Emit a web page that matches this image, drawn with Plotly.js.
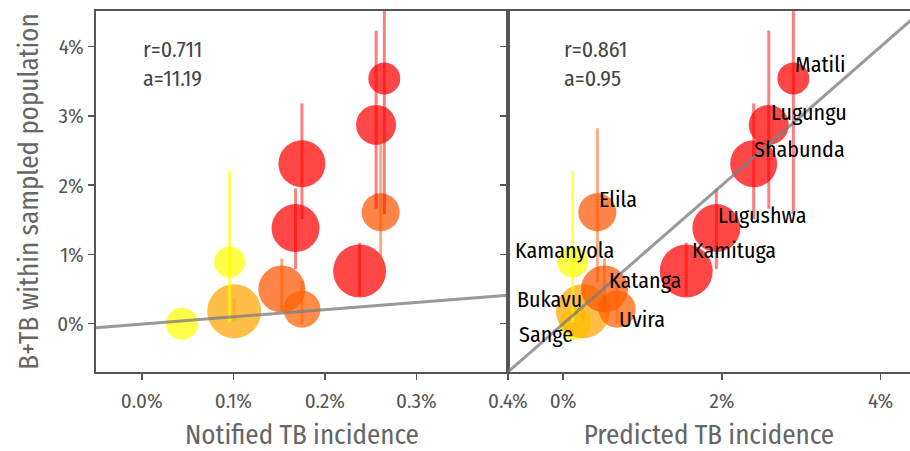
<!DOCTYPE html>
<html>
<head>
<meta charset="utf-8">
<script src="https://cdn.plot.ly/plotly-3.0.1.min.js"></script>
<style>
html,body{margin:0;padding:0;background:#fff;}
#chart{width:910px;height:451px;}
</style>
</head>
<body>
<div id="chart"></div>
<script>
// ---- data ----
var locations = ["Sange","Kamanyola","Bukavu","Katanga","Uvira","Lugushwa","Shabunda","Kamituga","Lugungu","Matili","Elila"];
var notified  = [0.00044,0.00096,0.00101,0.00153,0.00175,0.00168,0.00175,0.00238,0.00256,0.00265,0.00261];
var predicted = [0.0015,0.0012,0.0025,0.0052,0.0068,0.0193,0.0240,0.0155,0.0259,0.0290,0.0043];
var prevalence = [0.0000,0.0089,0.0018,0.0050,0.0021,0.0138,0.0231,0.0076,0.0287,0.0354,0.0161];
var prevLow  = [0.0000,0.0002,0.0004,0.0018,0.0000,0.0079,0.0151,0.0040,0.0166,0.0158,0.0060];
var prevHigh = [0.0000,0.0221,0.0036,0.0094,0.0062,0.0195,0.0318,0.0117,0.0423,0.0500,0.0282];
var sampleSize = [32,31,54,47,37,48,47,53,40,32,38];
var leftStats  = ["r=0.711","a=11.19"];
var rightStats = ["r=0.861","a=0.95"];
var fitX = [-0.0005, 0.0040];
var fitY = [-0.00058, 0.00412];
var idLine = [-0.01, 0.06];
var xTicksLeft = [0,0.001,0.002,0.003,0.004];
var xTicksRight = [0,0.02,0.04];
var yTicks = [0,0.01,0.02,0.03,0.04];

// ---- styles ----
var baseColors = ["255,255,0","255,255,0","255,165,0","255,85,0","255,95,0","255,0,0","255,0,0","255,0,0","255,0,0","255,0,0","255,85,0"];
var labelShift = { // pixel offsets for labels [dx, dy]
  "Sange":[-58,-11], "Kamanyola":[-60,12], "Bukavu":[-68,12],
  "Katanga":[3,9], "Uvira":[0,-10], "Lugushwa":[0,13],
  "Shabunda":[-2,14], "Kamituga":[4,21], "Lugungu":[0,12],
  "Matili":[0,14], "Elila":[0,13]
};
var FONT = "Fira Sans Condensed, Roboto Condensed, Liberation Sans Narrow, DejaVu Sans Condensed, Lato, sans-serif";

var traces = [];
// markers
[["x","y",notified],["x2","y2",predicted]].forEach(function(p){
  for (var i=0;i<locations.length;i++){
    traces.push({type:"scatter",mode:"markers",xaxis:p[0],yaxis:p[1],
      x:[p[2][i]],y:[prevalence[i]],hoverinfo:"skip",showlegend:false,
      marker:{size:sampleSize[i],color:"rgba("+baseColors[i]+",0.72)",line:{width:0}}});
  }
});
// error bars on top
[["x","y",notified],["x2","y2",predicted]].forEach(function(p){
  for (var i=0;i<locations.length;i++){
    if (prevHigh[i]-prevLow[i] <= 0) continue;
    traces.push({type:"scatter",mode:"lines",xaxis:p[0],yaxis:p[1],
      x:[p[2][i],p[2][i]],y:[prevLow[i],prevHigh[i]],hoverinfo:"skip",showlegend:false,
      line:{width:3,color:"rgba("+baseColors[i]+","+(baseColors[i]==="255,255,0"?0.65:0.5)+")"}});
  }
});
// fit lines
traces.push({type:"scatter",mode:"lines",xaxis:"x",yaxis:"y",x:fitX,y:fitY,showlegend:false,hoverinfo:"skip",
  line:{width:3,color:"rgba(128,128,128,0.8)"}});
traces.push({type:"scatter",mode:"lines",xaxis:"x2",yaxis:"y2",x:idLine,y:idLine,showlegend:false,hoverinfo:"skip",
  line:{width:3,color:"rgba(128,128,128,0.8)"}});

var annotations = [];
for (var i=0;i<locations.length;i++){
  var s = labelShift[locations[i]];
  annotations.push({xref:"x2",yref:"y2",x:predicted[i],y:prevalence[i],text:locations[i],showarrow:false,
    xanchor:"left",yanchor:"middle",xshift:s[0],yshift:s[1],font:{family:FONT,size:22,color:"#000"}});
}
annotations.push({xref:"paper",yref:"paper",x:0.055,y:0.935,xanchor:"left",yanchor:"top",showarrow:false,align:"left",
  text:leftStats.join("<br>"),font:{family:FONT,size:22,color:"#444"}});
annotations.push({xref:"paper",yref:"paper",x:0.573,y:0.935,xanchor:"left",yanchor:"top",showarrow:false,align:"left",
  text:rightStats.join("<br>"),font:{family:FONT,size:22,color:"#444"}});

var axisCommon = {showgrid:false,zeroline:false,showline:true,linecolor:"#555",linewidth:2,
  ticks:"outside",ticklen:6,tickwidth:1.5,tickcolor:"#555",
  tickfont:{family:FONT,size:21,color:"#555"}};

var layout = {
  width:910,height:451,
  margin:{l:96,r:0,t:11,b:79},
  paper_bgcolor:"#fff",plot_bgcolor:"#fff",
  font:{family:FONT},
  showlegend:false,
  xaxis:Object.assign({},axisCommon,{domain:[0,0.506],range:[-0.0005,0.004],tickvals:xTicksLeft,tickformat:".1%",mirror:true,
    ticklabelstandoff:3,
    title:{text:"Notified TB incidence",font:{family:FONT,size:27,color:"#666"},standoff:12}}),
  yaxis:Object.assign({},axisCommon,{range:[-0.00697,0.04514],tickvals:yTicks,tickformat:".0%",mirror:true,anchor:"x",
    title:{text:"B+TB within sampled population",font:{family:FONT,size:27,color:"#666"},standoff:11}}),
  xaxis2:Object.assign({},axisCommon,{domain:[0.506,1],range:[-0.00697,0.0437],tickvals:xTicksRight,tickformat:".0%",mirror:true,anchor:"y2",
    ticklabelstandoff:3,
    title:{text:"Predicted TB incidence",font:{family:FONT,size:27,color:"#666"},standoff:12}}),
  yaxis2:Object.assign({},axisCommon,{range:[-0.00697,0.04514],tickvals:yTicks,showticklabels:false,anchor:"x2"}),
  annotations:annotations
};

Plotly.newPlot("chart",traces,layout,{staticPlot:true,displayModeBar:false});
</script>
</body>
</html>
